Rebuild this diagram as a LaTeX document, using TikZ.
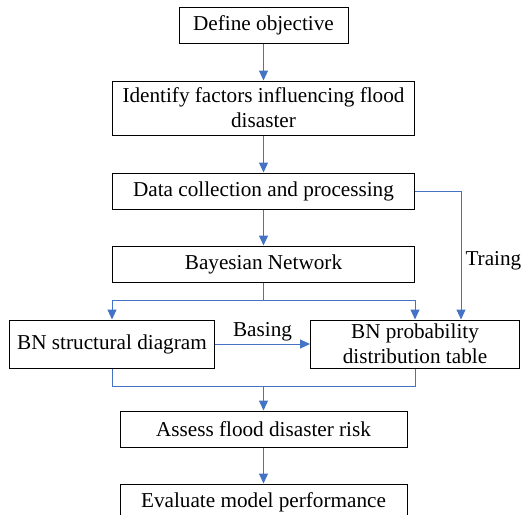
\documentclass[tikz,border=0pt]{standalone}
\usepackage{fontspec}
\setmainfont{Liberation Serif}
\usetikzlibrary{arrows.meta}
\usetikzlibrary{positioning}
\definecolor{flowblue}{RGB}{68,114,196}
\tikzstyle{stepbox} = [rectangle, minimum height=18pt, inner sep=1pt, text centered, align=center, draw=black, line width=0.5pt]
\tikzstyle{arrow} = [draw=flowblue, text=black, line width=0.5pt, -{Triangle[length=5pt,width=4.5pt]}]
\tikzstyle{link} = [draw=flowblue, line width=0.5pt]

\begin{document}
\begin{tikzpicture}[node distance=18pt, font=\fontsize{10.6}{12.5}\selectfont]

    \useasboundingbox (0,0) rectangle (261pt,-257pt);

        \node (define) [stepbox, minimum width=84.5pt] at (131.75pt,-12.5pt) {Define objective};
        \node (identify) [stepbox, minimum width=151pt, minimum height=27pt, below=18.5pt of define] {Identify factors influencing flood\\disaster};
        \node (data) [stepbox, minimum width=151pt, below=18.5pt of identify] {Data collection and processing};
        \node (bayes) [stepbox, minimum width=151pt, below=of data] {Bayesian Network};

        \draw [arrow] (define) -- (identify);
        \draw [arrow] (identify) -- (data);
        \draw [arrow] (data) -- (bayes);

        \node (struct) [stepbox, minimum width=102.5pt, minimum height=24pt, below=18.5pt of bayes.south west] {BN structural diagram};
        \node (prob) [stepbox, minimum width=104.5pt, minimum height=24pt, below=18.5pt of bayes.south east] {BN probability\\distribution table};

        \coordinate (split) at ([yshift=-9pt]bayes.south);
        \draw [link] (bayes) -- (split);
        \draw [arrow] (split) -| (struct);
        \draw [arrow] (split) -| (prob);

        \draw [arrow] (data.east) -| node [pos=0.77, right, inner sep=2pt] {Traing} ([xshift=23pt]prob.north);
        \draw [arrow] (struct) -- node [above, inner sep=1pt] {Basing} (prob);

        \node (assess) [stepbox, minimum width=143.5pt, below=64pt of bayes] {Assess flood disaster risk};
        \node (evaluate) [stepbox, minimum width=143.5pt, below=of assess] {Evaluate model performance};

        \coordinate (join) at ([yshift=12pt]assess.north);
        \draw [link] (struct.south) |- (join) -| (prob.south);
        \draw [arrow] (join) -- (assess);
        \draw [arrow] (assess) -- (evaluate);

\end{tikzpicture}
\end{document}
